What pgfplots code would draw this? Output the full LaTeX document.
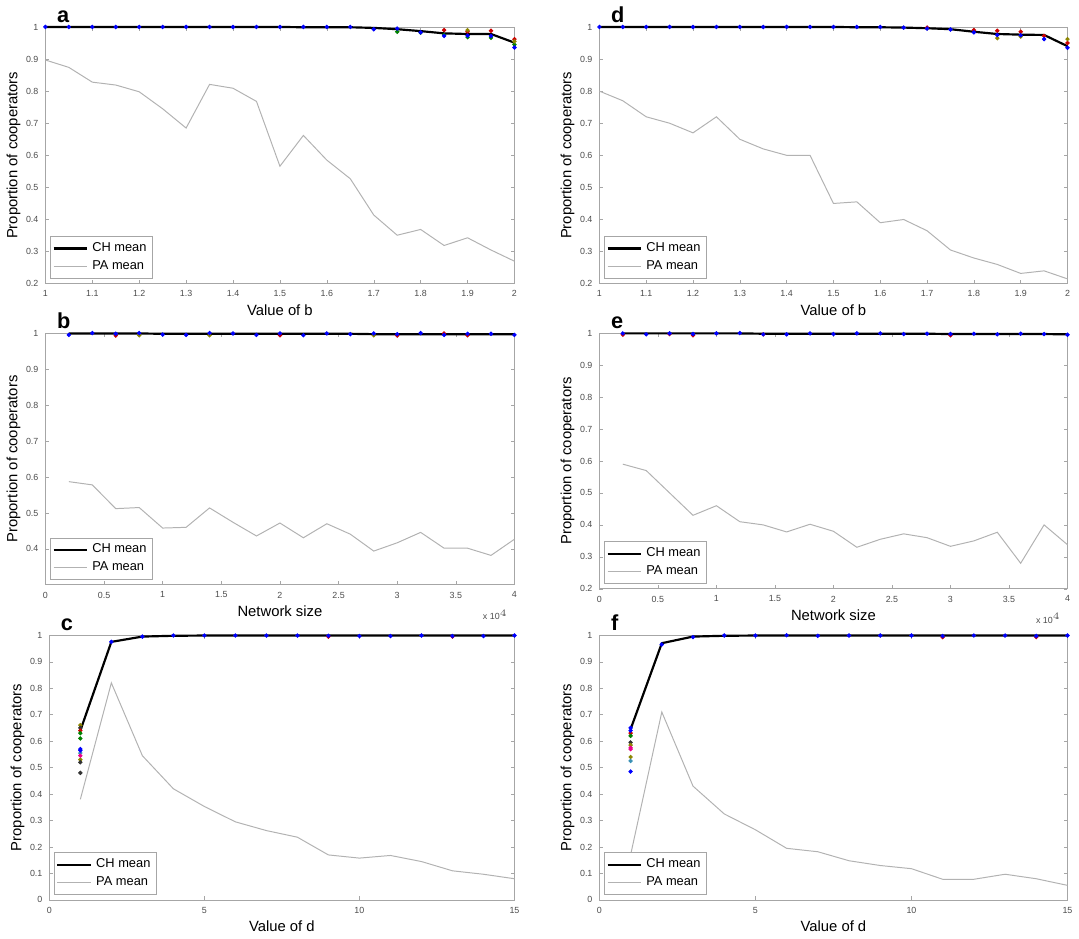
\documentclass[border=0pt]{standalone}
\usepackage{pgfplots}
\pgfplotsset{compat=1.18}
\usepackage{fontspec}
\setmainfont{Liberation Sans}
\pgfplotsset{panel/.style={
  scale only axis, anchor=south west,
  axis line style={gray!70}, tick style={gray!70},
  tick align=inside, xtick pos=both, ytick pos=both,
  major tick length=2pt,
  tick label style={font=\fontsize{4.5}{5}\selectfont, text=black!70},
  /pgf/number format/assume math mode=true,
  label style={font=\fontsize{7.5}{8}\selectfont},
  ylabel={Proportion of cooperators},
  ylabel style={yshift=-4pt},
  xlabel style={yshift=3pt},
  legend style={at={(0.01,0.02)},anchor=south west,font=\fontsize{6.5}{7}\selectfont,
    draw=gray!70, inner sep=1pt, row sep=-1pt},
  legend cell align=left,
  yticklabel style={/pgf/number format/.cd,fixed},
  clip=false},
 ch/.style={black, line width=1.1pt, mark=none},
 pa/.style={gray!60, line width=0.5pt, mark=none},
 dots/.style={only marks, mark=*, mark size=0.9pt, forget plot},
 netx/.style={xmin=0, xmax=40000, xtick={0,5000,...,40000},
  scaled x ticks=base 10:-4, xlabel={Network size},
  xtick scale label code/.code={x 10$^{4}$},
  every x tick scale label/.style={at={(1,0)},anchor=north east,yshift=-9pt,font=\fontsize{4.5}{5}\selectfont, text=black!70}},
}
\begin{document}
\begin{tikzpicture}
\path (0,0) rectangle (539.5pt,465.5pt);
% ---------- a ----------
\begin{axis}[panel, at={(19pt,322pt)}, width=237.5pt, height=130pt,
  xmin=1, xmax=2, ymin=0.2, ymax=1, xtick={1,1.1,...,2.01}, ytick={0.2,0.3,...,1.01},
  xlabel={Value of b}]
\addplot[ch] coordinates {(1,1)(1.05,1)(1.1,1)(1.15,1)(1.2,1)(1.25,1)(1.3,1)(1.35,1)(1.4,1)(1.45,1)(1.5,1)(1.55,0.999)(1.6,0.999)(1.65,0.999)(1.7,0.997)(1.75,0.993)(1.8,0.987)(1.85,0.980)(1.9,0.978)(1.95,0.978)(2,0.951)};
\addplot[pa] coordinates {(1,0.897)(1.05,0.874)(1.1,0.828)(1.15,0.819)(1.2,0.798)(1.25,0.745)(1.3,0.685)(1.35,0.821)(1.4,0.809)(1.45,0.768)(1.5,0.566)(1.55,0.662)(1.6,0.585)(1.65,0.527)(1.7,0.414)(1.75,0.351)(1.8,0.369)(1.85,0.319)(1.9,0.343)(1.95,0.305)(2,0.270)};
\legend{CH mean, PA mean}
\addplot[dots, green!50!black] coordinates {(1.75,0.985)(1.8,0.982)(1.85,0.975)(1.9,0.968)(1.95,0.966)(2,0.945)};
\addplot[dots, red!80!black] coordinates {(1.85,0.99)(1.9,0.985)(1.95,0.988)(2,0.962)};
\addplot[dots, olive] coordinates {(1.9,0.99)(2,0.955)};
\addplot[dots, blue] coordinates {(1,1)(1.05,1)(1.1,1)(1.15,1)(1.2,1)(1.25,1)(1.3,1)(1.35,1)(1.4,1)(1.45,1)(1.5,1)(1.55,1)(1.6,1)(1.65,1)(1.7,0.993)(1.75,0.995)(1.8,0.983)(1.85,0.972)(1.9,0.973)(1.95,0.972)(2,0.936)};
\node[font=\bfseries\fontsize{11}{11}\selectfont, anchor=south west] at (rel axis cs:0.01,0.99) {a};
\end{axis}
% ---------- d ----------
\begin{axis}[panel, at={(299.5pt,322pt)}, width=237pt, height=130pt,
  xmin=1, xmax=2, ymin=0.2, ymax=1, xtick={1,1.1,...,2.01}, ytick={0.2,0.3,...,1.01},
  xlabel={Value of b}]
\addplot[ch] coordinates {(1,1)(1.05,1)(1.1,1)(1.15,1)(1.2,1)(1.25,1)(1.3,1)(1.35,1)(1.4,1)(1.45,1)(1.5,1)(1.55,0.999)(1.6,0.999)(1.65,0.998)(1.7,0.996)(1.75,0.993)(1.8,0.985)(1.85,0.978)(1.9,0.976)(1.95,0.975)(2,0.94)};
\addplot[pa] coordinates {(1,0.80)(1.05,0.77)(1.1,0.72)(1.15,0.70)(1.2,0.67)(1.25,0.72)(1.3,0.65)(1.35,0.62)(1.4,0.60)(1.45,0.60)(1.5,0.45)(1.55,0.455)(1.6,0.39)(1.65,0.40)(1.7,0.365)(1.75,0.305)(1.8,0.28)(1.85,0.26)(1.9,0.232)(1.95,0.24)(2,0.215)};
\legend{CH mean, PA mean}
\addplot[dots, red!80!black] coordinates {(1.7,0.998)(1.8,0.99)(1.85,0.988)(1.9,0.985)(1.95,0.972)(2,0.95)};
\addplot[dots, olive] coordinates {(1.85,0.965)(1.9,0.97)(2,0.962)};
\addplot[dots, blue] coordinates {(1,1)(1.05,1)(1.1,1)(1.15,1)(1.2,1)(1.25,1)(1.3,1)(1.35,1)(1.4,1)(1.45,1)(1.5,1)(1.55,1)(1.6,1)(1.65,0.998)(1.7,0.995)(1.75,0.992)(1.8,0.983)(1.85,0.975)(1.9,0.974)(1.95,0.962)(2,0.935)};
\node[font=\bfseries\fontsize{11}{11}\selectfont, anchor=south west] at (rel axis cs:0.01,0.99) {d};
\end{axis}
% ---------- b ----------
\begin{axis}[panel, netx, at={(19pt,169.5pt)}, width=237.5pt, height=127.5pt,
  ymin=0.3, ymax=1, ytick={0.4,0.5,...,1.01}]
\addplot[ch] coordinates {(2000,0.999)(4000,0.999)(6000,0.999)(8000,0.999)(10000,0.998)(12000,0.998)(14000,0.998)(16000,0.998)(18000,0.998)(20000,0.998)(22000,0.998)(24000,0.998)(26000,0.998)(28000,0.997)(30000,0.997)(32000,0.997)(34000,0.997)(36000,0.997)(38000,0.997)(40000,0.997)};
\addplot[pa] coordinates {(2000,0.587)(4000,0.578)(6000,0.512)(8000,0.515)(10000,0.458)(12000,0.460)(14000,0.514)(16000,0.474)(18000,0.436)(20000,0.472)(22000,0.431)(24000,0.470)(26000,0.441)(28000,0.394)(30000,0.417)(32000,0.446)(34000,0.402)(36000,0.402)(38000,0.382)(40000,0.427)};
\legend{CH mean, PA mean}
\addplot[dots, red!80!black] coordinates {(6000,0.993)(20000,0.994)(30000,0.993)(34000,0.999)(36000,0.994)};
\addplot[dots, olive] coordinates {(8000,0.994)(14000,0.994)(28000,0.994)};
\addplot[dots, blue] coordinates {(2000,0.995)(4000,1)(6000,0.998)(8000,1)(10000,0.996)(12000,0.995)(14000,1)(16000,0.999)(18000,0.995)(20000,0.999)(22000,0.994)(24000,0.999)(26000,0.997)(28000,0.999)(30000,0.997)(32000,1)(34000,0.995)(36000,0.998)(38000,0.998)(40000,0.995)};
\node[font=\bfseries\fontsize{11}{11}\selectfont, anchor=south west] at (rel axis cs:0.01,0.99) {b};
\end{axis}
% ---------- e ----------
\begin{axis}[panel, netx, at={(299.5pt,167.5pt)}, width=237pt, height=129.5pt,
  ymin=0.2, ymax=1, ytick={0.2,0.3,...,1.01}]
\addplot[ch] coordinates {(2000,0.999)(4000,0.999)(6000,0.999)(8000,0.999)(10000,0.999)(12000,0.999)(14000,0.998)(16000,0.998)(18000,0.998)(20000,0.998)(22000,0.998)(24000,0.998)(26000,0.998)(28000,0.998)(30000,0.997)(32000,0.997)(34000,0.997)(36000,0.997)(38000,0.997)(40000,0.996)};
\addplot[pa] coordinates {(2000,0.59)(4000,0.57)(6000,0.50)(8000,0.43)(10000,0.46)(12000,0.41)(14000,0.40)(16000,0.378)(18000,0.402)(20000,0.38)(22000,0.33)(24000,0.355)(26000,0.372)(28000,0.36)(30000,0.333)(32000,0.35)(34000,0.377)(36000,0.28)(38000,0.40)(40000,0.338)};
\legend{CH mean, PA mean}
\addplot[dots, red!80!black] coordinates {(2000,0.995)(6000,0.997)(8000,0.993)(14000,0.996)(30000,0.993)};
\addplot[dots, blue] coordinates {(2000,0.999)(4000,0.996)(6000,0.999)(8000,0.997)(10000,0.999)(12000,1)(14000,0.996)(16000,0.996)(18000,0.999)(20000,0.997)(22000,0.999)(24000,0.999)(26000,0.997)(28000,0.998)(30000,0.997)(32000,0.998)(34000,0.996)(36000,0.998)(38000,0.997)(40000,0.995)};
\node[font=\bfseries\fontsize{11}{11}\selectfont, anchor=south west] at (rel axis cs:0.01,0.99) {e};
\end{axis}
% ---------- c ----------
\begin{axis}[panel, at={(21pt,10pt)}, width=235.5pt, height=134pt,
  xmin=0, xmax=15, ymin=0, ymax=1, xtick={0,5,10,15}, ytick={0,0.1,...,1.01},
  xlabel={Value of d}]
\addplot[ch] coordinates {(1,0.64)(2,0.975)(3,0.995)(4,0.998)(5,0.999)(6,0.999)(7,0.999)(8,0.999)(9,0.999)(10,0.999)(11,0.999)(12,0.999)(13,0.999)(14,0.999)(15,0.999)};
\addplot[pa] coordinates {(1,0.38)(2,0.82)(3,0.545)(4,0.42)(5,0.353)(6,0.295)(7,0.262)(8,0.237)(9,0.17)(10,0.158)(11,0.168)(12,0.145)(13,0.11)(14,0.097)(15,0.08)};
\legend{CH mean, PA mean}
\addplot[dots, olive] coordinates {(1,0.66)(1,0.53)};
\addplot[dots, black!80] coordinates {(1,0.65)(1,0.52)(1,0.48)};
\addplot[dots, red!80!black] coordinates {(1,0.64)(9,0.995)(13,0.995)};
\addplot[dots, green!50!black] coordinates {(1,0.63)(1,0.61)};
\addplot[dots, cyan!70!black] coordinates {(1,0.555)};
\addplot[dots, magenta] coordinates {(1,0.545)};
\addplot[dots, blue] coordinates {(1,0.57)(1,0.565)(2,0.975)(3,0.995)(4,0.999)(5,0.999)(6,0.999)(7,0.999)(8,0.999)(9,0.998)(10,0.997)(11,0.997)(12,0.999)(13,0.997)(14,0.997)(15,0.999)};
\node[font=\bfseries\fontsize{11}{11}\selectfont, anchor=south west] at (rel axis cs:0.01,0.99) {c};
\end{axis}
% ---------- f ----------
\begin{axis}[panel, at={(299.5pt,10pt)}, width=237pt, height=134pt,
  xmin=0, xmax=15, ymin=0, ymax=1, xtick={0,5,10,15}, ytick={0,0.1,...,1.01},
  xlabel={Value of d}]
\addplot[ch] coordinates {(1,0.645)(2,0.97)(3,0.995)(4,0.998)(5,0.999)(6,0.999)(7,0.999)(8,0.999)(9,0.999)(10,0.999)(11,0.999)(12,0.999)(13,0.999)(14,0.999)(15,0.999)};
\addplot[pa] coordinates {(1,0.17)(2,0.71)(3,0.43)(4,0.325)(5,0.265)(6,0.195)(7,0.182)(8,0.148)(9,0.13)(10,0.118)(11,0.078)(12,0.078)(13,0.097)(14,0.08)(15,0.055)};
\legend{CH mean, PA mean}
\addplot[dots, red!80!black] coordinates {(1,0.63)(11,0.993)(14,0.993)};
\addplot[dots, green!50!black] coordinates {(1,0.62)};
\addplot[dots, black!80] coordinates {(1,0.595)};
\addplot[dots, olive] coordinates {(1,0.585)(1,0.54)};
\addplot[dots, magenta] coordinates {(1,0.575)(1,0.57)};
\addplot[dots, cyan!70!black] coordinates {(1,0.525)};
\addplot[dots, blue] coordinates {(1,0.65)(1,0.64)(1,0.485)(2,0.965)(3,0.993)(4,0.999)(5,0.999)(6,1)(7,0.998)(8,0.999)(9,0.999)(10,0.999)(11,0.997)(12,0.999)(13,0.999)(14,0.997)(15,0.999)};
\node[font=\bfseries\fontsize{11}{11}\selectfont, anchor=south west] at (rel axis cs:0.01,0.99) {f};
\end{axis}
\end{tikzpicture}
\end{document}
